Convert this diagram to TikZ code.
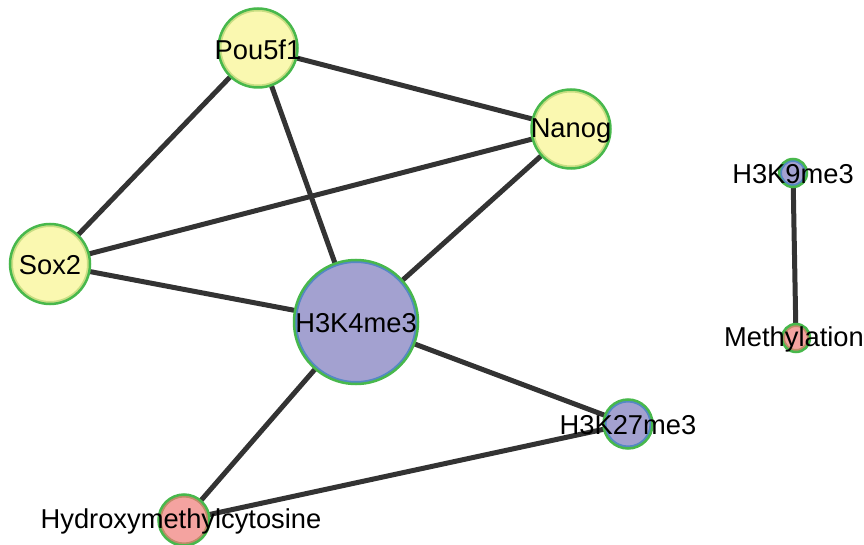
\documentclass[tikz,border=0pt]{standalone}
\usepackage{fontspec}
\setmainfont{Liberation Sans}
\usetikzlibrary{backgrounds}
\definecolor{ringgreen}{HTML}{48B84C}
\definecolor{yfill}{HTML}{FAF8B0}
\definecolor{yring}{HTML}{C8DE82}
\definecolor{pfill}{HTML}{A3A1D0}
\definecolor{pring}{HTML}{5488C4}
\definecolor{rfill}{HTML}{F4A3A0}
\definecolor{rring}{HTML}{BE8C68}
\definecolor{edgecol}{HTML}{333333}
\tikzset{
  basenode/.style 2 args={circle, inner sep=0pt, draw=ringgreen, line width=2.5pt,
     minimum size=2*#1pt,
     path picture={\draw[draw=#2, line width=6pt] (path picture bounding box.center) circle[radius=#1pt];}},
  ynode/.style={basenode={#1}{yring}, fill=yfill},
  pnode/.style={basenode={#1}{pring}, fill=pfill},
  rnode/.style={basenode={#1}{rring}, fill=rfill},
  lbl/.style={inner sep=0pt, yshift=-1.5pt, font=\fontsize{27.3}{31}\selectfont, text=black},
  edge/.style={draw=edgecol, line width=5pt}
}
\begin{document}
\begin{tikzpicture}[x=1pt,y=-1pt]
\useasboundingbox (0,0) rectangle (864,545);
\node[ynode=39.5] (pou) at (258,48) {};
\node[ynode=39.5] (nan) at (571,129) {};
\node[ynode=40] (sox) at (50,264) {};
\node[pnode=62] (k4) at (356,322) {};
\node[pnode=24.5] (k27) at (628,424) {};
\node[rnode=25.5] (hmc) at (184,520) {};
\node[pnode=14] (k9) at (793,173) {};
\node[rnode=14] (met) at (796,338) {};
\node[lbl] (pou-l) at (pou) {Pou5f1};
\node[lbl] (nan-l) at (nan) {Nanog};
\node[lbl] (sox-l) at (sox) {Sox2};
\node[lbl] (k4-l) at (k4) {H3K4me3};
\node[lbl] (k27-l) at (k27) {H3K27me3};
\node[lbl] (hmc-l) at (181,520) {Hydroxymethylcytosine};
\node[lbl] (k9-l) at (k9) {H3K9me3};
\node[lbl] (met-l) at (794,338) {Methylation};
\begin{scope}[on background layer]
\draw[edge] (pou.center) -- (nan.center);
\draw[edge] (pou.center) -- (sox.center);
\draw[edge] (pou.center) -- (k4.center);
\draw[edge] (nan.center) -- (sox.center);
\draw[edge] (nan.center) -- (k4.center);
\draw[edge] (sox.center) -- (k4.center);
\draw[edge] (k4.center) -- (k27.center);
\draw[edge] (k4.center) -- (hmc.center);
\draw[edge] (hmc.center) -- (k27.center);
\draw[edge] (k9.center) -- (met.center);
\end{scope}
\end{tikzpicture}
\end{document}
